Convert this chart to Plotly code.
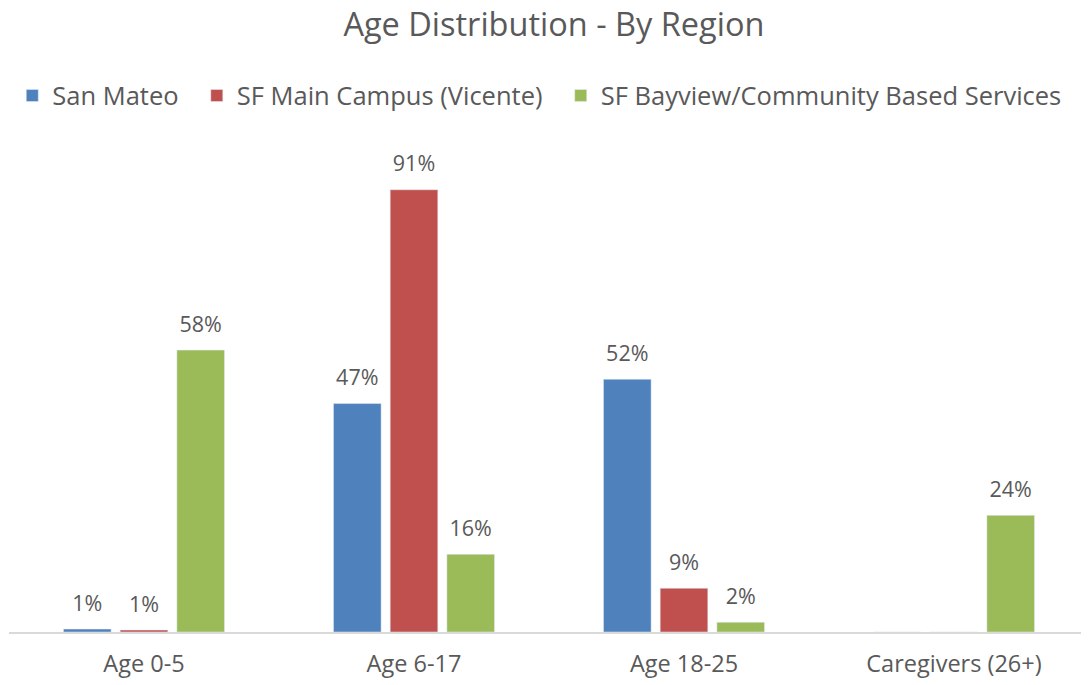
import plotly.graph_objects as go

categories = ["Age 0-5", "Age 6-17", "Age 18-25", "Caregivers (26+)"]
series_names = ["San Mateo", "SF Main Campus (Vicente)", "SF Bayview/Community Based Services"]
san_mateo = [0.006, 0.47, 0.52, 0.0]
sf_main = [0.004, 0.91, 0.09, 0.0]
sf_bayview = [0.58, 0.16, 0.02, 0.24]
san_mateo_labels = ["1%", "47%", "52%", ""]
sf_main_labels = ["1%", "91%", "9%", ""]
sf_bayview_labels = ["58%", "16%", "2%", "24%"]
colors = ["#4F81BD", "#C0504D", "#9BBB59"]

font_family = "Open Sans, Liberation Sans, sans-serif"
text_color = "#595959"
nbsp = "\u00a0"

fig = go.Figure()
series = list(zip(series_names, [san_mateo, sf_main, sf_bayview],
                  [san_mateo_labels, sf_main_labels, sf_bayview_labels], colors))
n = len(series)
for i, (name, vals, labels, col) in enumerate(series):
    legend_name = name + (nbsp * 2 if i < n - 1 else "")
    fig.add_trace(go.Bar(
        x=categories, y=vals, name=legend_name, marker_color=col,
        offsetgroup=str(i), hoverinfo="skip",
    ))
for i, (name, vals, labels, col) in enumerate(series):
    fig.add_trace(go.Scatter(
        x=categories, y=vals, mode="markers+text", text=labels,
        textposition="top center", offsetgroup=str(i),
        marker=dict(size=19, opacity=0, color=col),
        textfont=dict(size=21.5, color=text_color, family=font_family),
        showlegend=False, hoverinfo="skip", cliponaxis=False,
    ))

fig.update_layout(
    width=1081, height=677,
    paper_bgcolor="white", plot_bgcolor="white",
    margin=dict(l=1, r=0, t=138, b=53),
    barmode="group", bargap=0.37, bargroupgap=0.16,
    scattermode="group", scattergap=0.37,
    title=dict(text="Age Distribution - By Region", x=0.505, xanchor="center",
               y=0.975, yanchor="middle", pad=dict(t=0, b=0),
               font=dict(size=32.5, color=text_color, family=font_family)),
    legend=dict(orientation="h", x=0.491, xanchor="center", y=1.103, yanchor="middle",
                font=dict(size=25.5, color=text_color, family=font_family),
                itemwidth=30, traceorder="normal"),
    font=dict(family=font_family, color=text_color),
    showlegend=True,
)
fig.update_xaxes(showline=True, linecolor="#D9D9D9", linewidth=1.5,
                 tickfont=dict(size=23.5, color=text_color, family=font_family),
                 ticks="", showgrid=False, ticklabelstandoff=10)
fig.update_yaxes(range=[0, 1.0], visible=False, showgrid=False, zeroline=False)

fig.write_html("out.html")
